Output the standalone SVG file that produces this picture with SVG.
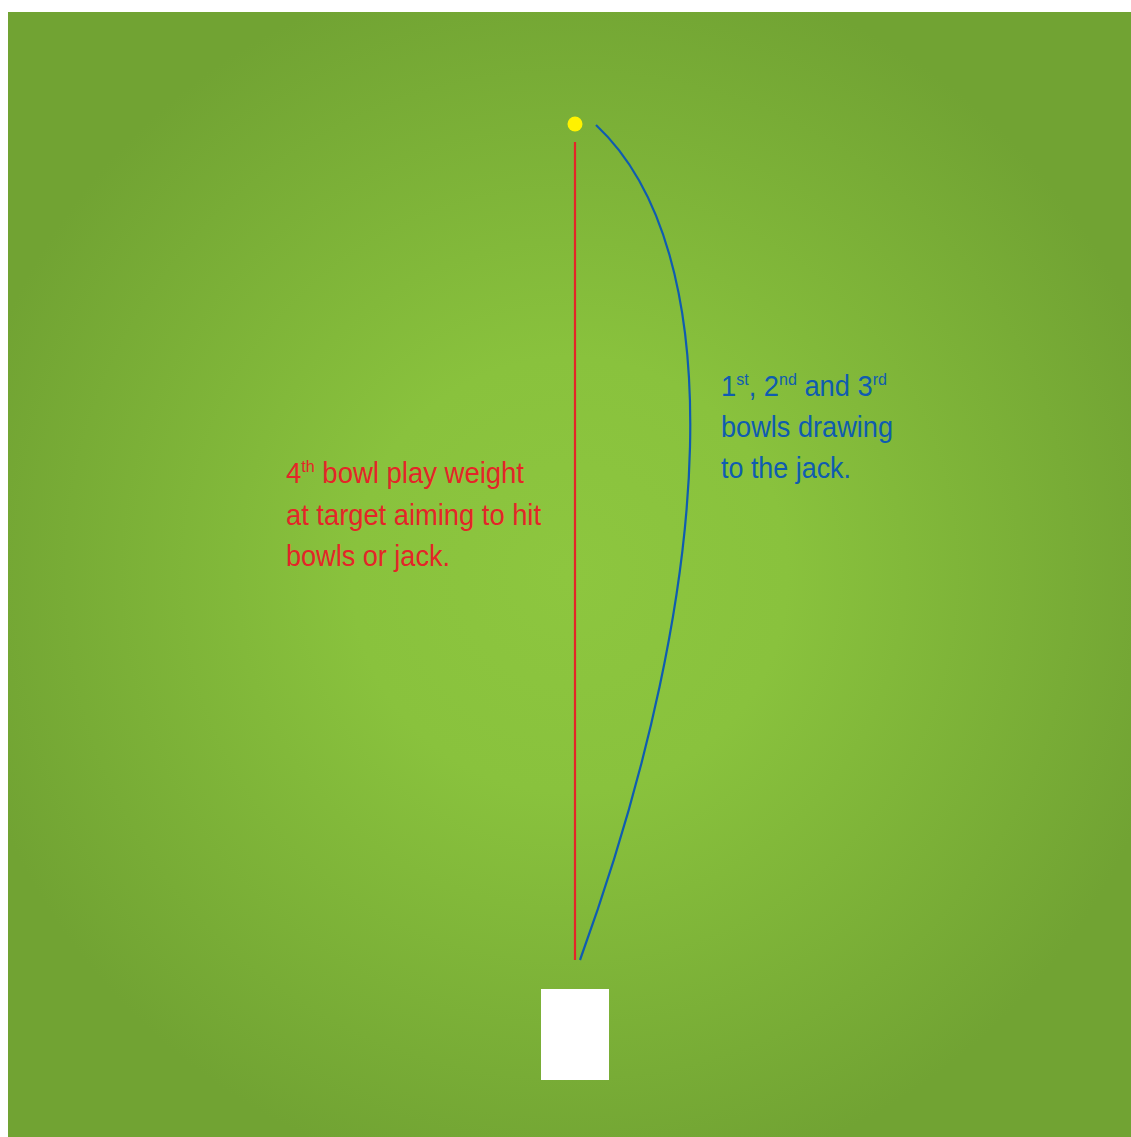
<svg xmlns="http://www.w3.org/2000/svg" width="1131" height="1137" viewBox="0 0 1131 1137">
<defs>
<radialGradient id="grass" cx="570" cy="575" r="620" gradientUnits="userSpaceOnUse">
<stop offset="0" stop-color="#8dc63f"/>
<stop offset="0.35" stop-color="#89c23d"/>
<stop offset="1" stop-color="#71a333"/>
</radialGradient>
<style>
.lbl{font-family:"Liberation Sans Narrow","Liberation Sans",Arial,sans-serif;font-size:29px}
.red{fill:#e42528}
.blue{fill:#0f5cb0}
</style>
</defs>
<rect x="0" y="0" width="1131" height="1137" fill="#ffffff"/>
<rect x="8" y="12" width="1123" height="1125" fill="url(#grass)"/>
<g id="connectors" fill="none" stroke-width="2.2">
<line x1="575" y1="142" x2="575" y2="960" stroke="#e42528"/>
<path d="M596,125 C730,250 718,580 580,960" stroke="#0f5cb0"/>
</g>
<g id="jack"><circle cx="575" cy="124" r="7.5" fill="#fff200"/></g>
<g id="mat"><rect x="541" y="989" width="68" height="91" fill="#ffffff"/></g>
<g id="label-red" class="lbl red">
<text x="286" y="483" textLength="238" lengthAdjust="spacingAndGlyphs">4<tspan font-size="17" dy="-11">th</tspan><tspan dy="11"> bowl play weight</tspan></text>
<text x="286" y="525" textLength="255" lengthAdjust="spacingAndGlyphs">at target aiming to hit</text>
<text x="286" y="566" textLength="164" lengthAdjust="spacingAndGlyphs">bowls or jack.</text>
</g>
<g id="label-blue" class="lbl blue">
<text x="721" y="396" textLength="166" lengthAdjust="spacingAndGlyphs">1<tspan font-size="17" dy="-11">st</tspan><tspan dy="11">, 2</tspan><tspan font-size="17" dy="-11">nd</tspan><tspan dy="11"> and 3</tspan><tspan font-size="17" dy="-11">rd</tspan></text>
<text x="721" y="437" textLength="172" lengthAdjust="spacingAndGlyphs">bowls drawing</text>
<text x="721" y="478" textLength="130" lengthAdjust="spacingAndGlyphs">to the jack.</text>
</g>
</svg>
